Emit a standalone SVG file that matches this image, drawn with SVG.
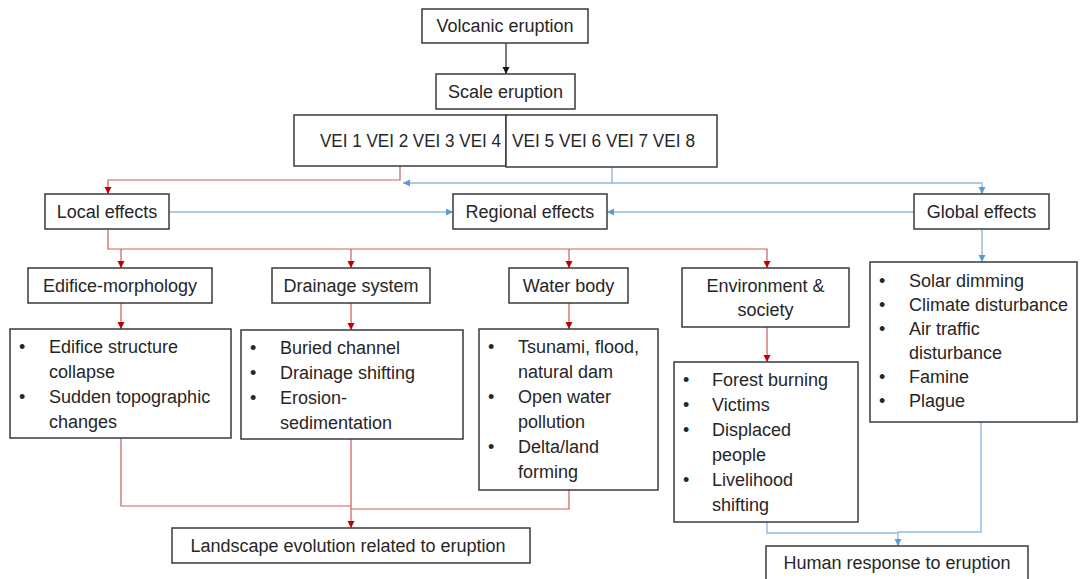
<svg xmlns="http://www.w3.org/2000/svg" width="1083" height="579" viewBox="0 0 1083 579">
<style>
.box{fill:#fff;stroke:#3a3a3a;stroke-width:1.5}
text{font-family:"Liberation Sans",Arial,sans-serif;font-size:18px;fill:#262626}
.c{text-anchor:middle}
.r{fill:none;stroke:#c9605c;stroke-width:1.2}
.b{fill:none;stroke:#8dbbe0;stroke-width:1.4}
.k{fill:none;stroke:#222;stroke-width:1.2}
</style>
<defs>
<marker id="ar" markerUnits="userSpaceOnUse" markerWidth="8" markerHeight="8" refX="7" refY="3.5" orient="auto"><path d="M0,0 L7,3.5 L0,7 z" fill="#c00000"/></marker>
<marker id="ab" markerUnits="userSpaceOnUse" markerWidth="8" markerHeight="8" refX="7" refY="3.5" orient="auto"><path d="M0,0 L7,3.5 L0,7 z" fill="#5b9bd5"/></marker>
<marker id="ak" markerUnits="userSpaceOnUse" markerWidth="8" markerHeight="8" refX="7" refY="3.5" orient="auto"><path d="M0,0 L7,3.5 L0,7 z" fill="#111"/></marker>
</defs>
<rect width="1083" height="579" fill="#fff"/>

<g id="connectors">
<path class="k" d="M506 43 V74" marker-end="url(#ak)"/>
<path class="r" d="M400 166 V180 H108 V194" marker-end="url(#ar)"/>
<path class="b" d="M612 167 V183 H403" marker-end="url(#ab)"/>
<path class="b" d="M612 183 H982 V194" marker-end="url(#ab)"/>
<path class="b" d="M169 212 H453" marker-end="url(#ab)"/>
<path class="b" d="M914 212 H607" marker-end="url(#ab)"/>
<path class="r" d="M108 229 V249 H767 V268" marker-end="url(#ar)"/>
<path class="r" d="M121 249 V268" marker-end="url(#ar)"/>
<path class="r" d="M351 249 V268" marker-end="url(#ar)"/>
<path class="r" d="M569 249 V268" marker-end="url(#ar)"/>
<path class="b" d="M982 229 V262" marker-end="url(#ab)"/>
<path class="r" d="M121 303 V329" marker-end="url(#ar)"/>
<path class="r" d="M351 303 V330" marker-end="url(#ar)"/>
<path class="r" d="M569 303 V329" marker-end="url(#ar)"/>
<path class="r" d="M767 327 V362" marker-end="url(#ar)"/>
<path class="r" d="M121 438 V506 H351"/>
<path class="r" d="M569 490 V509 H351"/>
<path class="r" d="M351 439 V528" marker-end="url(#ar)"/>
<path class="b" d="M767 522 V533 H898"/>
<path class="b" d="M981 422 V532 H898 V546" marker-end="url(#ab)"/>
</g>

<g id="volcanic-eruption"><rect class="box" x="422" y="9" width="166" height="34"/><text class="c" x="505" y="32">Volcanic eruption</text></g>
<g id="scale-eruption"><rect class="box" x="436" y="74" width="139" height="35"/><text class="c" x="505.5" y="98">Scale eruption</text></g>
<g id="vei-low"><rect class="box" x="294" y="115" width="212" height="51"/><text x="320" y="147" textLength="181" lengthAdjust="spacingAndGlyphs">VEI 1 VEI 2 VEI 3 VEI 4</text></g>
<g id="vei-high"><rect class="box" x="506" y="115" width="211" height="52"/><text x="512" y="147" textLength="183" lengthAdjust="spacingAndGlyphs">VEI 5 VEI 6 VEI 7 VEI 8</text></g>

<g id="local-effects"><rect class="box" x="45" y="194" width="124" height="35"/><text class="c" x="107" y="218">Local effects</text></g>
<g id="regional-effects"><rect class="box" x="453" y="194" width="154" height="35"/><text class="c" x="530" y="218">Regional effects</text></g>
<g id="global-effects"><rect class="box" x="914" y="194" width="135" height="35"/><text class="c" x="981.5" y="218">Global effects</text></g>

<g id="edifice-morphology"><rect class="box" x="28" y="268" width="184" height="35"/><text class="c" x="120" y="292">Edifice-morphology</text></g>
<g id="drainage-system"><rect class="box" x="272" y="268" width="158" height="35"/><text class="c" x="351" y="292">Drainage system</text></g>
<g id="water-body"><rect class="box" x="509" y="268" width="119" height="35"/><text class="c" x="568.5" y="292">Water body</text></g>
<g id="environment-society"><rect class="box" x="682" y="268" width="167" height="59"/><text class="c" x="765.5" y="292">Environment &amp;</text><text class="c" x="765.5" y="316">society</text></g>

<g id="edifice-list"><rect class="box" x="10" y="329" width="221" height="109"/>
<text x="19" y="353">•</text><text x="49" y="353">Edifice structure</text>
<text x="49" y="378">collapse</text>
<text x="19" y="403">•</text><text x="49" y="403">Sudden topographic</text>
<text x="49" y="428">changes</text></g>

<g id="drainage-list"><rect class="box" x="241" y="330" width="222" height="109"/>
<text x="250" y="354">•</text><text x="280" y="354">Buried channel</text>
<text x="250" y="379">•</text><text x="280" y="379">Drainage shifting</text>
<text x="250" y="404">•</text><text x="280" y="404">Erosion-</text>
<text x="280" y="429">sedimentation</text></g>

<g id="water-list"><rect class="box" x="479" y="329" width="179" height="161"/>
<text x="488" y="353">•</text><text x="518" y="353">Tsunami, flood,</text>
<text x="518" y="378">natural dam</text>
<text x="488" y="403">•</text><text x="518" y="403">Open water</text>
<text x="518" y="428">pollution</text>
<text x="488" y="453">•</text><text x="518" y="453">Delta/land</text>
<text x="518" y="478">forming</text></g>

<g id="environment-list"><rect class="box" x="674" y="362" width="184" height="160"/>
<text x="683" y="386">•</text><text x="712" y="386">Forest burning</text>
<text x="683" y="411">•</text><text x="712" y="411">Victims</text>
<text x="683" y="436">•</text><text x="712" y="436">Displaced</text>
<text x="712" y="461">people</text>
<text x="683" y="486">•</text><text x="712" y="486">Livelihood</text>
<text x="712" y="511">shifting</text></g>

<g id="global-list"><rect class="box" x="870" y="262" width="207" height="160"/>
<text x="879" y="287">•</text><text x="909" y="287">Solar dimming</text>
<text x="879" y="311">•</text><text x="909" y="311">Climate disturbance</text>
<text x="879" y="335">•</text><text x="909" y="335">Air traffic</text>
<text x="909" y="359">disturbance</text>
<text x="879" y="383">•</text><text x="909" y="383">Famine</text>
<text x="879" y="407">•</text><text x="909" y="407">Plague</text></g>

<g id="landscape-evolution"><rect class="box" x="172" y="528" width="358" height="35"/><text class="c" x="348" y="552">Landscape evolution related to eruption</text></g>
<g id="human-response"><rect class="box" x="766" y="546" width="262" height="36"/><text class="c" x="897" y="569">Human response to eruption</text></g>
</svg>
